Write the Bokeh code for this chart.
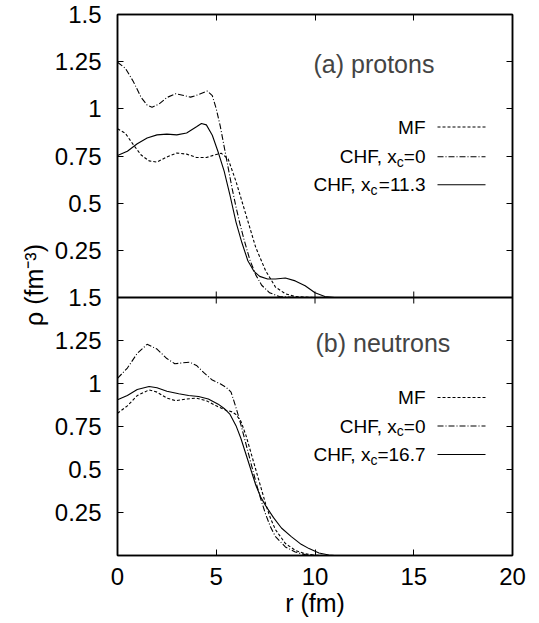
from bokeh.plotting import figure
from bokeh.models import Range1d, LinearAxis, FixedTicker, Label, Span
from bokeh.embed import file_html
from bokeh.resources import INLINE

# ---------------- data ----------------
# (a) protons
r_mf_p = [0, 0.4, 0.8, 1.2, 1.6, 2.0, 2.5, 3.0, 3.5, 4.0, 4.5, 5.0, 5.25, 5.6, 6.0, 6.5, 7.0, 7.5, 8.0, 8.5, 9.0, 10.0, 12.0]
rho_mf_p = [0.894, 0.87, 0.81, 0.755, 0.724, 0.718, 0.745, 0.766, 0.760, 0.742, 0.742, 0.758, 0.765, 0.735, 0.615, 0.44, 0.265, 0.142, 0.055, 0.02, 0.005, 0.0, 0.0]

r_chf0_p = [0, 0.4, 0.8, 1.2, 1.5, 1.75, 2.1, 2.5, 2.95, 3.3, 3.7, 4.1, 4.55, 4.8, 5.0, 5.2, 5.4, 5.6, 5.8, 6.0, 6.2, 6.4, 6.7, 7.0, 7.3, 7.7, 8.2, 9.0, 12.0]
rho_chf0_p = [1.247, 1.215, 1.145, 1.06, 1.02, 1.009, 1.025, 1.06, 1.08, 1.072, 1.062, 1.075, 1.094, 1.07, 1.0, 0.91, 0.80, 0.69, 0.58, 0.48, 0.39, 0.31, 0.20, 0.12, 0.065, 0.025, 0.005, 0.0, 0.0]

r_chf_p = [0, 0.5, 1.0, 1.5, 2.0, 2.5, 3.0, 3.5, 4.0, 4.25, 4.5, 4.8, 5.1, 5.4, 5.7, 6.0, 6.3, 6.6, 6.9, 7.2, 7.6, 8.0, 8.5, 9.0, 9.5, 10.0, 10.5, 11.0, 12.0]
rho_chf_p = [0.753, 0.775, 0.815, 0.845, 0.862, 0.866, 0.862, 0.872, 0.905, 0.922, 0.915, 0.86, 0.77, 0.67, 0.54, 0.40, 0.29, 0.195, 0.14, 0.112, 0.098, 0.098, 0.103, 0.088, 0.062, 0.025, 0.005, 0.0, 0.0]

# (b) neutrons
r_mf_n = [0, 0.5, 1.0, 1.6, 2.0, 2.5, 2.95, 3.5, 4.0, 4.5, 5.0, 5.5, 5.8, 6.0, 6.25, 6.5, 6.75, 7.0, 7.25, 7.5, 7.75, 8.0, 8.5, 9.0, 9.5, 10.0, 10.5, 12.0]
rho_mf_n = [0.827, 0.87, 0.93, 0.963, 0.95, 0.915, 0.90, 0.91, 0.915, 0.90, 0.87, 0.845, 0.835, 0.82, 0.78, 0.70, 0.60, 0.50, 0.40, 0.30, 0.215, 0.15, 0.07, 0.03, 0.01, 0.002, 0.0, 0.0]

r_chf0_n = [0, 0.5, 1.0, 1.5, 2.0, 2.5, 2.9, 3.3, 3.65, 4.0, 4.4, 4.8, 5.2, 5.5, 5.75, 6.0, 6.25, 6.5, 6.75, 7.0, 7.25, 7.5, 7.75, 8.0, 8.5, 9.0, 9.5, 10.0, 12.0]
rho_chf0_n = [1.03, 1.09, 1.175, 1.228, 1.2, 1.145, 1.115, 1.12, 1.124, 1.105, 1.06, 1.02, 0.998, 0.978, 0.95, 0.86, 0.76, 0.65, 0.54, 0.43, 0.33, 0.24, 0.165, 0.11, 0.05, 0.02, 0.005, 0.0, 0.0]

r_chf_n = [0, 0.5, 1.0, 1.6, 2.0, 2.5, 3.1, 3.6, 4.1, 4.6, 5.1, 5.4, 5.7, 6.0, 6.25, 6.5, 6.75, 7.0, 7.25, 7.5, 7.9, 8.3, 8.8, 9.3, 9.7, 10.2, 10.7, 11.0, 12.0]
rho_chf_n = [0.905, 0.93, 0.965, 0.983, 0.975, 0.955, 0.94, 0.93, 0.924, 0.91, 0.88, 0.855, 0.82, 0.755, 0.68, 0.59, 0.50, 0.41, 0.34, 0.29, 0.22, 0.16, 0.11, 0.065, 0.04, 0.015, 0.003, 0.0, 0.0]

x_ticks = [0, 5, 10, 15, 20]
y_ticks = [0.25, 0.5, 0.75, 1.0, 1.25, 1.5]
y_tick_labels = ["0.25", "0.5", "0.75", "1", "1.25", "1.5"]

legend_p = [("MF", None, None), ("CHF, x", "c", "=0"), ("CHF, x", "c", "=11.3")]
legend_n = [("MF", None, None), ("CHF, x", "c", "=0"), ("CHF, x", "c", "=16.7")]
panel_titles = ["(a) protons", "(b) neutrons"]

# ---------------- layout ----------------
FONT = "Liberation Sans"
W, H = 539, 623
BL, BR, BT = 117, 27, 14
FRAME_W, FRAME_H = 395, 541
TOP_PX, BOT_PX = 283, 258
YMAX = 1.5
XMAX = 20.0
FL, FT = BL, BT                   # frame left / top in canvas px
FB = FT + FRAME_H                 # frame bottom in canvas px
top_scale = TOP_PX / YMAX
bot_scale = BOT_PX / YMAX
top_start = YMAX - FRAME_H / top_scale
low_end = FRAME_H / bot_scale


def xd(px):
    return (px - FL) / (FRAME_W / XMAX)


def yd_top(py):
    return YMAX - (py - FT) / top_scale


def yd_low(py):
    return (FB - py) / bot_scale


def low_to_top(v):
    return top_start + v * bot_scale / top_scale


p = figure(width=W, height=H, x_range=Range1d(0, XMAX), y_range=Range1d(top_start, YMAX),
           output_backend="svg", toolbar_location=None,
           min_border_left=BL, min_border_right=BR, min_border_top=BT,
           min_border_bottom=H - BT - FRAME_H,
           x_axis_location=None, y_axis_location=None)
p.extra_y_ranges = {"low": Range1d(0, low_end)}
p.xgrid.visible = False
p.ygrid.visible = False
p.outline_line_color = "black"
p.outline_line_width = 1.5
p.background_fill_color = "white"
p.border_fill_color = "white"

# y ticks for both panels on one axis
tick_vals = []
overrides = {}
blank = {}
for v, lab in zip(y_ticks, y_tick_labels):
    t = round(v, 6)
    tick_vals.append(t)
    overrides[t] = lab
    overrides[repr(t)] = lab
for v, lab in zip(y_ticks, y_tick_labels):
    t = round(low_to_top(v), 6)
    if abs(t) < 1e-9:
        t = 0.0
    tick_vals.append(t)
    overrides[t] = lab
    overrides[repr(t)] = lab
for t in tick_vals:
    blank[t] = ""
    blank[repr(t)] = ""
blank_x = {}
for t in x_ticks:
    blank_x[t] = ""
    blank_x[repr(t)] = ""
    blank_x[str(t)] = ""


def style_axis(ax, fs):
    ax.axis_line_color = "black"
    ax.axis_line_width = 1.5
    ax.major_tick_line_color = "black"
    ax.major_tick_line_width = 1
    ax.major_tick_in = 6
    ax.major_tick_out = 0
    ax.minor_tick_line_color = None
    ax.major_label_text_font = FONT
    ax.major_label_text_font_size = fs
    ax.major_label_text_color = "black"
    ax.axis_label_text_font = FONT
    ax.axis_label_text_font_style = "normal"
    ax.axis_label_text_font_size = "25px"
    ax.axis_label_text_color = "black"


yl = LinearAxis(ticker=FixedTicker(ticks=tick_vals), major_label_overrides=overrides,
                axis_label="ρ (fm⁻³)")
style_axis(yl, "24px")
yl.major_label_standoff = 16
yl.axis_label_standoff = 4
p.add_layout(yl, "left")

yr = LinearAxis(ticker=FixedTicker(ticks=tick_vals), major_label_overrides=blank)
style_axis(yr, "1px")
yr.major_label_text_color = None
yr.major_label_standoff = 0
p.add_layout(yr, "right")

xb = LinearAxis(ticker=FixedTicker(ticks=x_ticks), axis_label="r (fm)")
style_axis(xb, "24px")
xb.major_label_standoff = 12
xb.axis_label_standoff = 1
p.add_layout(xb, "below")

xt = LinearAxis(ticker=FixedTicker(ticks=x_ticks), major_label_overrides=blank_x)
style_axis(xt, "1px")
xt.major_label_text_color = None
xt.major_label_standoff = 0
p.add_layout(xt, "above")

# divider between panels
p.add_layout(Span(location=0, dimension="width", line_color="black", line_width=2))

# inner x ticks at the divider
mid_x = [t for t in x_ticks if 0 < t < XMAX]
tick_len = 6 / top_scale
p.segment(x0=mid_x, y0=[0] * len(mid_x), x1=mid_x, y1=[tick_len] * len(mid_x), line_color="black", line_width=1)
p.segment(x0=mid_x, y0=[0] * len(mid_x), x1=mid_x, y1=[-tick_len] * len(mid_x), line_color="black", line_width=1)

MF_DASH = "3 2"
CHF0_DASH = "6 2 1 2"
LW = 1.1

# curves
p.line(r_mf_p, rho_mf_p, line_color="black", line_width=LW, line_dash=MF_DASH)
p.line(r_chf0_p, rho_chf0_p, line_color="black", line_width=LW, line_dash=CHF0_DASH)
p.line(r_chf_p, rho_chf_p, line_color="black", line_width=LW)

p.line(r_mf_n, rho_mf_n, line_color="black", line_width=LW, line_dash=MF_DASH, y_range_name="low")
p.line(r_chf0_n, rho_chf0_n, line_color="black", line_width=LW, line_dash=CHF0_DASH, y_range_name="low")
p.line(r_chf_n, rho_chf_n, line_color="black", line_width=LW, y_range_name="low")

# legends (label text to the left of the sample line)
ADV = {"C": .722, "H": .722, "F": .611, ",": .278, " ": .278, "x": .5, "c": .5, "=": .584,
       ".": .278, "M": .833}
for d in "0123456789":
    ADV[d] = .556


def tw(s, fs):
    return sum(ADV.get(ch, .556) for ch in s) * fs


LEG_FS = 19
SUB_FS = 14
TEXT_RIGHT_PX = 425
SAMPLE_X0_PX, SAMPLE_X1_PX = 437, 485
dashes = [MF_DASH, CHF0_DASH, "solid"]


def draw_legend(rows, rows_py, conv, rng):
    for (head, sub, tail), py, dash in zip(rows, rows_py, dashes):
        yv = conv(py)
        xr = xd(TEXT_RIGHT_PX)
        kw = dict(text_font=FONT, text_color="black", text_baseline="middle", text_align="right")
        off = 0.0
        if tail:
            p.add_layout(Label(x=xr, y=yv, text=tail, text_font_size=f"{LEG_FS}px",
                               y_range_name=rng, **kw))
            off += tw(tail, LEG_FS)
        if sub:
            p.add_layout(Label(x=xr, y=yv, x_offset=-off, y_offset=-5, text=sub,
                               text_font_size=f"{SUB_FS}px", y_range_name=rng, **kw))
            off += tw(sub, SUB_FS)
        p.add_layout(Label(x=xr, y=yv, x_offset=-off, text=head, text_font_size=f"{LEG_FS}px",
                           y_range_name=rng, **kw))
        p.line([xd(SAMPLE_X0_PX), xd(SAMPLE_X1_PX)], [yv, yv], line_color="black", line_width=LW,
               line_dash=dash, y_range_name=rng)


draw_legend(legend_p, [126.5, 156.3, 184.3], yd_top, "default")
draw_legend(legend_n, [397, 425.5, 454], yd_low, "low")

# panel titles
p.add_layout(Label(x=xd(313), y=yd_top(63), text=panel_titles[0], text_font=FONT,
                   text_font_size="25px", text_baseline="middle", text_align="left"))
p.add_layout(Label(x=xd(315), y=yd_low(342), text=panel_titles[1], text_font=FONT,
                   text_font_size="25px", text_baseline="middle", text_align="left",
                   y_range_name="low"))

open("out.html", "w").write(file_html(p, INLINE))
